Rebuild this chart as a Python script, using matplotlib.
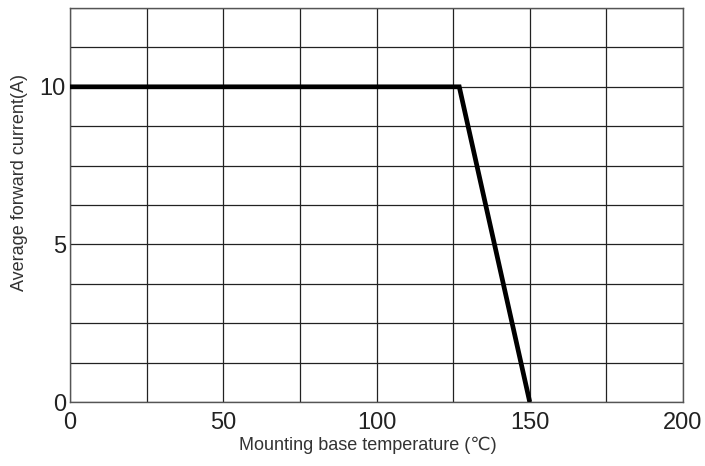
import matplotlib
matplotlib.use("Agg")
import matplotlib.pyplot as plt
import numpy as np

# derating curve: flat at rated current, then linear down to zero
temp = [0, 127, 150]
current = [10, 10, 0]

xticks = [0, 50, 100, 150, 200]
yticks = [0, 5, 10]

plt.rcParams['font.family'] = ['Liberation Sans', 'DejaVu Sans']

fig = plt.figure(figsize=(7.05, 4.66), dpi=100)
ax = fig.add_axes([0.0993, 0.1373, 0.8695, 0.8455])

ax.plot(temp, current, color='black', lw=3.4, solid_capstyle='butt', solid_joinstyle='miter', zorder=3)

ax.set_xlim(0, 200)
ax.set_ylim(0, 12.5)
ax.set_xticks(np.arange(0, 201, 25), minor=True)
ax.set_yticks(np.arange(0, 12.6, 1.25), minor=True)
ax.set_xticks(xticks)
ax.set_yticks(yticks)
ax.set_xticklabels([str(v) for v in xticks])
ax.set_yticklabels([str(v) for v in yticks])
ax.grid(which='both', color='#222222', lw=0.9)
ax.tick_params(which='both', length=0, labelsize=17, colors='#222222')
ax.tick_params(axis='x', pad=7)
ax.tick_params(axis='y', pad=3)
for s in ax.spines.values():
    s.set_color('#555555')
    s.set_linewidth(1.0)

ax.set_xlabel('Mounting base temperature (\u2103)', fontsize=13, color='#333333')
ax.set_ylabel('Average forward current(A)', fontsize=13, color='#333333')
ax.xaxis.set_label_coords(0.486, -0.089)
ax.yaxis.set_label_coords(-0.0685, 0.558)

fig.savefig('out.png', dpi=100)
